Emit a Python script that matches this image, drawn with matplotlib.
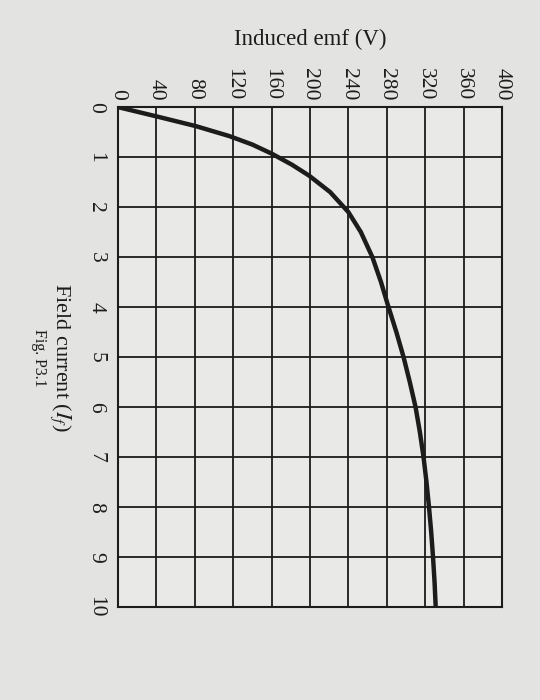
import numpy as np
import matplotlib
matplotlib.use("Agg")
import matplotlib.pyplot as plt

# magnetisation curve (emf against field current)
field_current = [0, 0.19, 0.38, 0.58, 0.75, 0.93, 1.15, 1.37, 1.7, 2.1, 2.5,
                 3.0, 3.5, 3.95, 4.5, 5.0, 5.5, 6.0, 6.5, 7.0, 7.5, 8.0,
                 8.5, 9.0, 9.5, 10.0]
induced_emf = [0, 41, 81, 116, 140, 160, 181, 199, 221, 240, 253,
               265, 274, 281, 290, 297.5, 304, 310, 314.5, 318.3, 321.4, 324,
               326.3, 328.2, 329.8, 331]

emf_ticks = [0, 40, 80, 120, 160, 200, 240, 280, 320, 360, 400]
current_ticks = [0, 1, 2, 3, 4, 5, 6, 7, 8, 9, 10]

paper = "#e3e3e1"
ink = "#1c1c1c"

plt.rcParams['font.family'] = ['Liberation Serif', 'DejaVu Serif']
plt.rcParams['mathtext.fontset'] = 'stix'

fig = plt.figure(figsize=(5.4, 7), dpi=100, facecolor=paper)
ax = fig.add_axes([0.2185, 0.133, 0.711, 0.714], facecolor="#e9e9e7")

ax.plot(induced_emf, field_current, color=ink, lw=3.2,
        solid_capstyle='round', solid_joinstyle='round')

ax.set_xlim(0, 400)
ax.set_ylim(10, 0)
ax.set_xticks(emf_ticks)
ax.set_yticks(current_ticks)
ax.xaxis.tick_top()
ax.xaxis.set_label_position('top')
ax.grid(True, color=ink, lw=1.3)
for s in ax.spines.values():
    s.set_color(ink)
    s.set_linewidth(1.5)

ax.tick_params(axis='x', length=0, pad=5, labelsize=15.5, labelcolor=ink)
ax.tick_params(axis='y', length=0, pad=9, labelsize=15.5, labelcolor=ink)
for lab in ax.get_xticklabels():
    lab.set_rotation(-90)
for lab in ax.get_yticklabels():
    lab.set_rotation(-90)
    lab.set_va('center')

ax.set_xlabel("Induced emf (V)", fontsize=16.5, color=ink, labelpad=16)
ax.set_ylabel("Field current ($I_f$)", fontsize=16, color=ink, rotation=-90,
              va='top', labelpad=10)

fig.text(0.072, 0.489, "Fig. P3.1", rotation=-90, fontsize=11.5, color=ink,
         ha='center', va='center')

fig.savefig("out.png", dpi=100, facecolor=paper)
